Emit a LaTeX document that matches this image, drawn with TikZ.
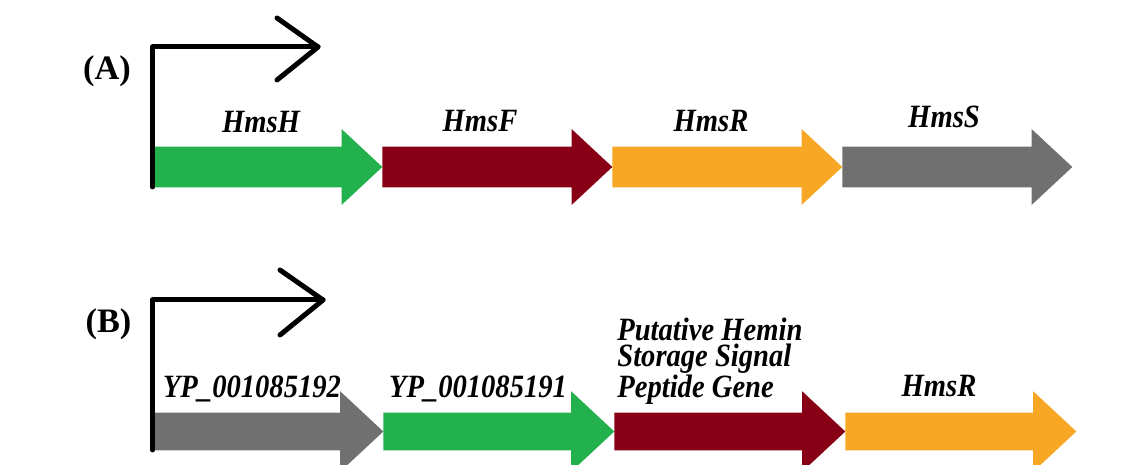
\documentclass[tikz,border=0pt]{standalone}
\usepackage{fontspec}
\setmainfont{Liberation Serif}
\newfontfamily\genefont[FakeStretch=0.88]{Liberation Serif}
\usepackage{tikz}
\usetikzlibrary{shapes.arrows}

\definecolor{hmsgreen}{RGB}{34,177,76}
\definecolor{hmsred}{RGB}{136,0,21}
\definecolor{hmsorange}{RGB}{247,167,36}
\definecolor{hmsgrey}{RGB}{112,112,112}

\begin{document}
\begin{tikzpicture}[x=0.02cm,y=0.02cm,
  genea/.style={single arrow,draw=none,anchor=tail,inner xsep=0pt,inner ysep=0.4cm,
    minimum width=1.5cm,single arrow head extend=0.35cm,single arrow tip angle=86,minimum height=4.6cm},
  geneb/.style={single arrow,draw=none,anchor=tail,inner xsep=0pt,inner ysep=0.37cm,
    minimum width=1.6cm,single arrow head extend=0.43cm,single arrow tip angle=86,minimum height=4.62cm},
  genename/.style={font=\genefont\bfseries\itshape\fontsize{18.5}{15}\selectfont,anchor=base,inner sep=0pt},
  panel/.style={font=\bfseries\fontsize{19.5}{20}\selectfont,anchor=base,inner sep=0pt},
  promoter/.style={line width=0.1cm,line cap=round,line join=round}]
\useasboundingbox (0,0) rectangle (1138,465);
\clip (0,0) rectangle (1138,465);
% (A) operon
\node[genea,fill=hmsgreen] (hmsH) at (152,298) {};
\node[genea,fill=hmsred] (hmsF) at (382,298) {};
\node[genea,fill=hmsorange] (hmsR) at (612,298) {};
\node[genea,fill=hmsgrey] (hmsS) at (842,298) {};
\node[genename] (lH) at (261,332) {HmsH};
\node[genename] (lF) at (480,333) {HmsF};
\node[genename] (lR) at (711,333) {HmsR};
\node[genename] (lS) at (944,337) {HmsS};
\node[panel] (A) at (107,385) {(A)};
\coordinate (pA) at (152.5,278);
\coordinate (tipA) at (318,418);
\draw[promoter] (pA) |- (tipA);
\draw[promoter] (tipA) ++(-41,29) -- (tipA) -- ++(-41,-33);
% (B) cluster
\node[geneb,fill=hmsgrey] (yp192) at (152,33.5) {};
\node[geneb,fill=hmsgreen] (yp191) at (383,33.5) {};
\node[geneb,fill=hmsred] (hsp) at (614,33.5) {};
\node[geneb,fill=hmsorange] (hmsRb) at (845,33.5) {};
\node[genename] (l192) at (252,67) {YP\_001085192};
\node[genename] (l191) at (478,67) {YP\_001085191};
\node[genename,anchor=base west,align=left] (lhsp) at (617,67) {Putative Hemin\\Storage Signal\\Peptide Gene};
\node[genename] (lRb) at (939,68) {HmsR};
\node[panel] (B) at (108.5,132) {(B)};
\coordinate (pB) at (152.5,15);
\coordinate (tipB) at (323,165);
\draw[promoter] (pB) |- (tipB);
\draw[promoter] (tipB) ++(-43,30) -- (tipB) -- ++(-43,-35);
\end{tikzpicture}
\end{document}
